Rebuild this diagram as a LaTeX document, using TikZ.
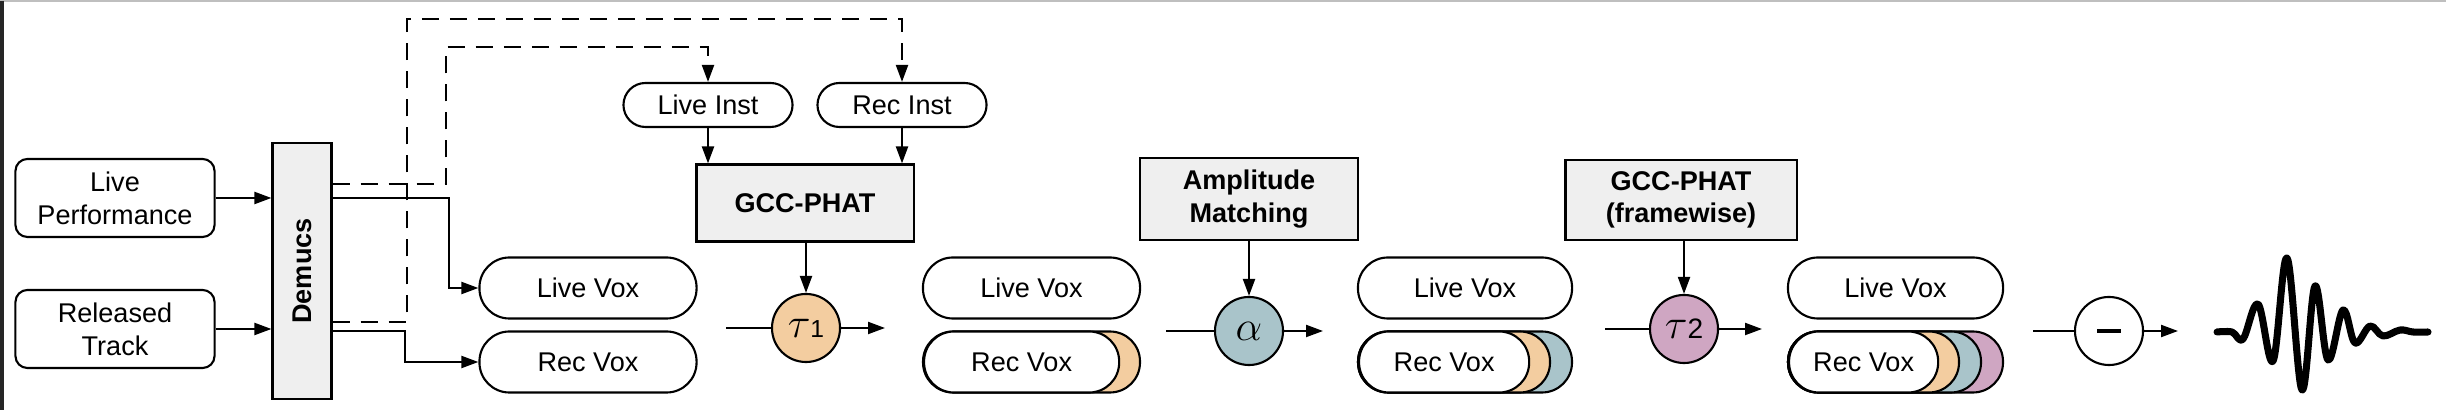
\documentclass[tikz,border=0pt]{standalone}
\usepackage{fontspec}
\setmainfont{Liberation Sans}
\usetikzlibrary{arrows.meta}
\definecolor{tauone}{HTML}{F3CDA0}
\definecolor{alphablue}{HTML}{A9C4CA}
\definecolor{tautwo}{HTML}{CFA6C2}
\definecolor{boxgray}{HTML}{EFEFEF}
\tikzset{
	src/.style={draw, line width=0.6pt, rounded corners=0.12cm, minimum width=1.99cm, minimum height=0.78cm, align=center},
	proc/.style={draw, line width=0.6pt, fill=boxgray, minimum width=2.17cm, minimum height=0.77cm, align=center, font=\fontsize{7.7}{9.3}\selectfont\bfseries},
	vox/.style={draw, line width=0.6pt, fill=white, rounded corners=0.3cm, minimum height=0.61cm, inner sep=0pt},
	inst/.style={draw, line width=0.6pt, rounded corners=0.22cm, minimum width=1.69cm, minimum height=0.44cm, inner sep=0pt},
	op/.style={draw, line width=0.6pt, circle, minimum size=0.68cm, inner sep=0pt},
	layer/.style={draw, line width=0.6pt, rounded corners=0.3cm},
	arr/.style={line width=0.6pt, -{Triangle[length=0.17cm,width=0.12cm]}},
	dsh/.style={line width=0.6pt, dash pattern=on 0.17cm off 0.11cm}
}
\def\voxlayer[#1](#2:#3){\draw[layer,fill=#1] (#2,331.5) rectangle (#3,392.5);}

\begin{document}
\begin{tikzpicture}[x=0.01cm, y=-0.01cm, font=\fontsize{7.7}{9.3}\selectfont]
			%%%%% START %%%%%
			\useasboundingbox (0,0) rectangle (2446,410);
			\draw[black!25, line width=1pt] (0,0.5) -- (2446,0.5);
			\draw[black!85, line width=1.7pt] (1,1) -- (1,410);
			
			% inputs and separation
			\node[src] (perf) at (115,198) {Live\\Performance};
			\node[src] (track) at (115,329) {Released\\Track};
			\node[proc, minimum width=0.59cm, minimum height=2.55cm] (demucs) at (302,271) {\rotatebox{90}{Demucs}};
			\draw[arr] (perf.east) -- (perf.east -| demucs.west);
			\draw[arr] (track.east) -- (track.east -| demucs.west);
			
			% first alignment
			\node[inst] (liveinst) at (708,105) {Live Inst};
			\node[inst] (recinst) at (902,105) {Rec Inst};
			\node[proc] (gcc) at (805,203) {GCC-PHAT};
			\draw[arr] (liveinst.south) -- (liveinst.south |- gcc.north);
			\draw[arr] (recinst.south) -- (recinst.south |- gcc.north);
			
			\draw[dsh, arr] (demucs.east |- 0,322) -| (407,19) -| (recinst.north);
			\draw[dsh, arr] (demucs.east |- 0,184) -| (446,47) -| (liveinst.north);
			
			\node[vox, minimum width=2.17cm] (livevox1) at (588,288) {Live Vox};
			\node[vox, minimum width=2.17cm] (recvox1) at (588,362) {Rec Vox};
			\draw[arr] (demucs.east |- 0,198) -| (449,288) -- (livevox1.west);
			\draw[arr] (demucs.east |- 0,331) -| (405,362) -- (recvox1.west);
			
			\node[op, fill=tauone] (tau1) at (806,328) {{\fontsize{13}{13}\selectfont$\tau$}{\fontsize{7}{8}\selectfont 1}};
			\coordinate (in1) at (726,328);
			\coordinate (out1) at (885,328);
			\draw[line width=0.6pt] (in1) -- (tau1.west);
			\draw[arr] (tau1.east) -- (out1);
			\draw[arr] (gcc.south -| tau1) -- (tau1.north);
			
			% after first shift
			\node[vox, minimum width=2.17cm] (livevox2) at (1031.5,288) {Live Vox};
			\voxlayer[tauone](923:1140)
			\node[vox, minimum width=1.95cm, anchor=west] (recvox2) at (923,362) {Rec Vox};
			
			% amplitude
			\node[proc, minimum width=2.18cm, minimum height=0.78cm] (amp) at (1249,199) {Amplitude\\Matching};
			\node[op, fill=alphablue] (alpha) at (1249,331) {\fontsize{13}{13}\selectfont$\alpha$};
			\coordinate (in2) at (1166,331);
			\coordinate (out2) at (1323,331);
			\draw[line width=0.6pt] (in2) -- (alpha.west);
			\draw[arr] (alpha.east) -- (out2);
			\draw[arr] (amp.south) -- (alpha.north);
			
			\node[vox, minimum width=2.14cm] (livevox3) at (1465,288) {Live Vox};
			\voxlayer[alphablue](1358:1572)
			\voxlayer[tauone](1358:1550)
			\node[vox, minimum width=1.70cm, anchor=west] (recvox3) at (1358,362) {Rec Vox};
			
			% framewise alignment
			\node[proc, minimum width=2.31cm] (gcc2) at (1681,200) {GCC-PHAT\\(framewise)};
			\node[op, fill=tautwo] (tau2) at (1684,329) {{\fontsize{13}{13}\selectfont$\tau$}{\fontsize{8}{9}\selectfont 2}};
			\coordinate (in3) at (1605,329);
			\coordinate (out3) at (1762,329);
			\draw[line width=0.6pt] (in3) -- (tau2.west);
			\draw[arr] (tau2.east) -- (out3);
			\draw[arr] (gcc2.south -| tau2) -- (tau2.north);
			
			\node[vox, minimum width=2.15cm] (livevox4) at (1895.5,288) {Live Vox};
			\voxlayer[tautwo](1788:2003)
			\voxlayer[alphablue](1788:1981)
			\voxlayer[tauone](1788:1959)
			\node[vox, minimum width=1.49cm, anchor=west] (recvox4) at (1788,362) {Rec Vox};
			
			% subtraction and residual
			\node[op, fill=white] (minus) at (2109,331) {\rule{0.24cm}{0.04cm}};
			\coordinate (in4) at (2033,331);
			\coordinate (out4) at (2178,331);
			\draw[line width=0.6pt] (in4) -- (minus.west);
			\draw[arr] (minus.east) -- (out4);
			
			\draw[line width=2pt, line cap=round, line join=round] plot[smooth, tension=0.6] coordinates {(2217,332) (2232,332) (2243,339) (2258,304) (2273,361) (2287,258) (2302,390) (2315,286) (2328,360) (2343,310) (2355,343) (2370,326) (2383,336) (2400,330) (2413,332) (2428,332)};
			%%%%% END %%%%%
\end{tikzpicture}
\end{document}
